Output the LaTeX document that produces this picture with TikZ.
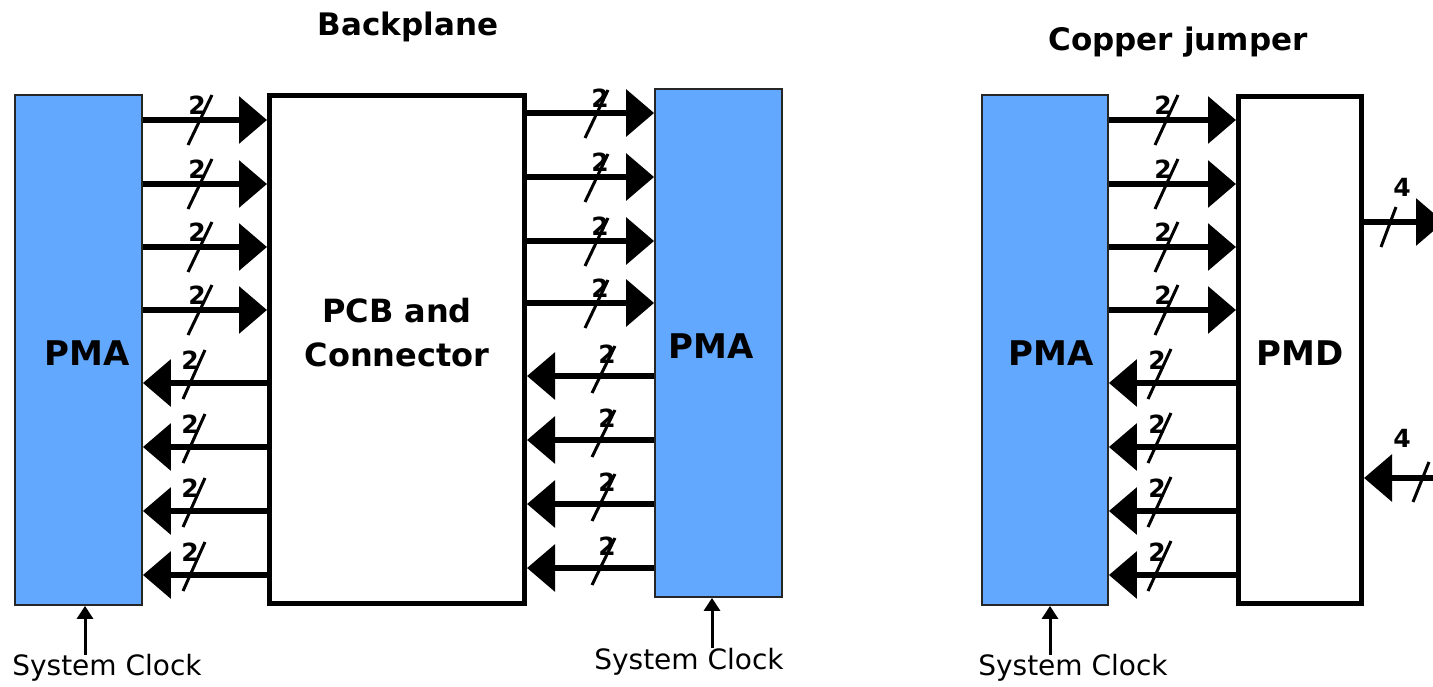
\documentclass[tikz,border=0pt]{standalone}
\usepackage{fontspec}
\setmainfont{DejaVu Sans}
\usetikzlibrary{arrows.meta,calc}
\definecolor{pmablue}{RGB}{99,168,255}
\begin{document}
\begin{tikzpicture}[x=1pt,y=-1pt,
  pmabox/.style={draw=black!85,line width=1.8pt,fill=pmablue,inner sep=0pt,minimum width=127pt},
  blkbox/.style={draw=black,line width=5pt,fill=white,inner sep=0pt},
  bus/.style={line width=6.5pt,-{Triangle[length=28pt,width=46pt]}},
  slashline/.style={line width=3pt},
  buslbl/.style={font=\bfseries\fontsize{25}{27}\selectfont,inner sep=0pt},
  boxlbl/.style={font=\bfseries\fontsize{34}{40}\selectfont,inner sep=0pt,align=center},
  titlelbl/.style={font=\bfseries\fontsize{31}{36}\selectfont,inner sep=0pt},
  clklbl/.style={font=\fontsize{28}{32}\selectfont,inner sep=0pt},
  clk/.style={line width=3pt,-{Triangle[length=13pt,width=16pt]}}]
\clip (0,0) rectangle (1433,687);
\fill[white] (0,0) rectangle (1433,687);

% titles
\node[titlelbl] (t1) at (408,27) {Backplane};
\node[titlelbl] (t2) at (1178,42) {Copper jumper};

% boxes
\node[pmabox,minimum height=510pt] (pmaL) at (78.5,350) {};
\node[blkbox,minimum width=255pt,minimum height=508pt] (pcb) at (397,349.5) {};
\node[pmabox,minimum height=508pt] (pmaR) at (718.5,343) {};
\node[pmabox,minimum width=126pt,minimum height=510pt] (pmaC) at (1045,350) {};
\node[blkbox,minimum width=123pt,minimum height=507pt] (pmd) at (1300,350) {};

% box labels
\node[boxlbl] (lpmaL) at (87,353) {PMA};
\node[boxlbl,font=\bfseries\fontsize{32}{44}\selectfont] (lpcb) at (397,333) {PCB and\\Connector};
\node[boxlbl] (lpmaR) at (711,346) {PMA};
\node[boxlbl] (lpmaC) at (1051,353) {PMA};
\node[boxlbl] (lpmd) at (1300,353) {PMD};

% backplane, left PMA -> PCB
\foreach \y in {120,184,247,310}{
  \draw[bus] (pmaL.east |- 0,\y) -- (pcb.west |- 0,\y);
  \draw[slashline] ({188},{\y+25}) -- ({212},{\y-25});
  \node[buslbl] (a\y) at (197,{\y-15}) {2};
}
% backplane, PCB -> left PMA
\foreach \y in {383,447,511,575}{
  \draw[bus] (pcb.west |- 0,\y) -- (pmaL.east |- 0,\y);
  \draw[slashline] ({183},{\y+16}) -- ({205},{\y-33});
  \node[buslbl] (b\y) at (190,{\y-23}) {2};
}
% backplane, PCB -> right PMA
\foreach \y in {113,177,241,303}{
  \draw[bus] (pcb.east |- 0,\y) -- (pmaR.west |- 0,\y);
  \draw[slashline] ({585},{\y+25}) -- ({608},{\y-23});
  \node[buslbl] (c\y) at (600,{\y-15}) {2};
}
% backplane, right PMA -> PCB
\foreach \y in {376,440,504,568}{
  \draw[bus] (pmaR.west |- 0,\y) -- (pcb.east |- 0,\y);
  \draw[slashline] ({592},{\y+17}) -- ({615},{\y-30});
  \node[buslbl] (d\y) at (607,{\y-22}) {2};
}
% copper, PMA -> PMD
\foreach \y in {120,184,247,310}{
  \draw[bus] (pmaC.east |- 0,\y) -- (pmd.west |- 0,\y);
  \draw[slashline] ({1155},{\y+25}) -- ({1178},{\y-25});
  \node[buslbl] (e\y) at (1163,{\y-15}) {2};
}
% copper, PMD -> PMA
\foreach \y in {383,447,511,575}{
  \draw[bus] (pmd.west |- 0,\y) -- (pmaC.east |- 0,\y);
  \draw[slashline] ({1148},{\y+16}) -- ({1171},{\y-34});
  \node[buslbl] (f\y) at (1157,{\y-23}) {2};
}
% PMD external
\coordinate (outA) at (1444,222);
\coordinate (inB) at (1470,478);
\draw[bus] (pmd.east |- outA) -- (outA);
\draw[slashline] (1381,247) -- (1396,207);
\node[buslbl] (g1) at (1402,187) {4};
\draw[bus] (inB) -- (pmd.east |- inB);
\draw[slashline] (1413,502) -- (1429,462);
\node[buslbl] (g2) at (1402,438) {4};

% system clocks
\node[clklbl] (sc1) at (107,668) {System Clock};
\node[clklbl] (sc2) at (689,662) {System Clock};
\node[clklbl] (sc3) at (1073,668) {System Clock};
\coordinate (k1) at (85,655);
\coordinate (k2) at (712,648);
\coordinate (k3) at (1050,655);
\draw[clk] (k1) -- (k1 |- pmaL.south);
\draw[clk] (k2) -- (k2 |- pmaR.south);
\draw[clk] (k3) -- (k3 |- pmaC.south);
\end{tikzpicture}
\end{document}
